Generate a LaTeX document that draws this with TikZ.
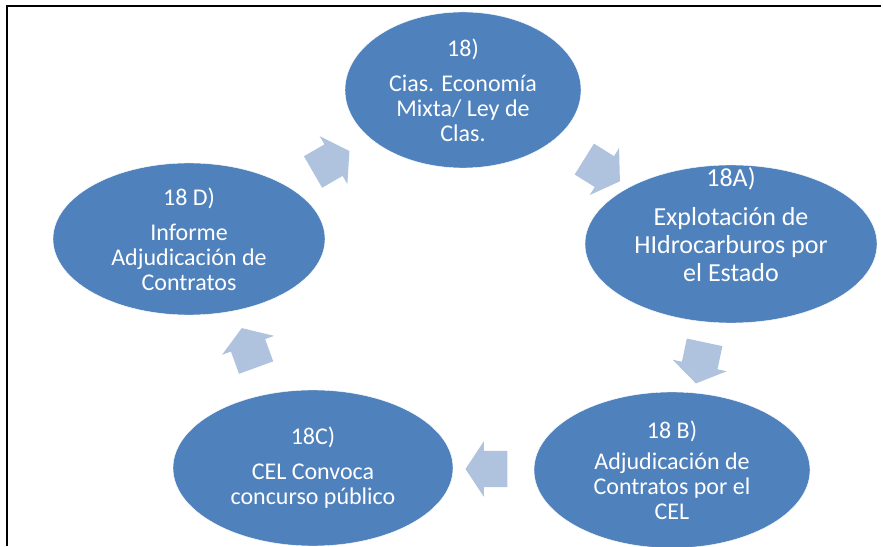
\documentclass[tikz,border=0pt]{standalone}
\usepackage{fontspec}
\setmainfont{Carlito}
\usetikzlibrary{shapes.geometric,shapes.arrows,calc}
\definecolor{ovalblue}{RGB}{79,129,189}
\definecolor{arrowblue}{RGB}{176,195,222}

\begin{document}
\begin{tikzpicture}[x=1pt,y=1pt,
    oval/.style={ellipse,fill=ovalblue,draw=white,inner sep=0pt,
      text=white,align=center,font=\fontsize{24}{25}\selectfont},
    bigarrow/.style={single arrow,fill=arrowblue,inner xsep=0pt,inner ysep=18pt,
      single arrow head extend=9.5pt,single arrow tip angle=113,
      minimum height=42pt}]
  \useasboundingbox (0,0) rectangle (883,546);
  \draw[line width=2.5pt] (7,0) -- (7,540) -- (881,540);
  \node[oval,minimum width=236pt,minimum height=156pt] (t0) at (463,456)
    {18)\\[10pt] Cias. Economía\\ Mixta/ Ley de\\ Clas.};
  \node[oval,minimum width=292pt,minimum height=158pt,
    label={[text=white,align=center,font=\fontsize{26}{28}\selectfont,
      yshift=19pt]center:{18A)\\[11pt] Explotación de\\ HIdrocarburos por\\ el Estado}}]
    (eA) at (731,302) {};
  \node[oval,minimum width=276pt,minimum height=156pt] (eB) at (672,76)
    {18 B)\\[6pt] Adjudicación de\\ Contratos por el\\ CEL};
  \node[oval,minimum width=280pt,minimum height=156pt] (eC) at (313,78)
    {18C)\\[10pt] CEL Convoca\\ concurso público};
  \node[oval,minimum width=272pt,minimum height=152pt] (eD) at (189,307)
    {18 D)\\[10pt] Informe\\ Adjudicación de\\ Contratos};
  \foreach \a/\b/\r in {eD/t0/30,t0/eA/-32,eA/eB/-102,eB/eC/180,eC/eD/110}
    \node[bigarrow,rotate=\r] (\a-\b) at ($(\a)!0.5!(\b)$) {};
\end{tikzpicture}
\end{document}
